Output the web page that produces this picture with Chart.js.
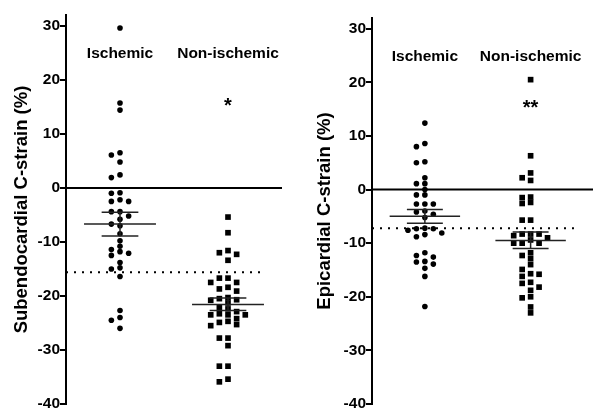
<!DOCTYPE html>
<html>
<head>
<meta charset="utf-8">
<script src="https://cdn.jsdelivr.net/npm/chart.js@4"></script>
<style>
  html, body { margin: 0; padding: 0; background: #fff; }
  #wrap { position: relative; width: 597px; height: 419px; }
  .panel { position: absolute; top: 0; height: 419px; }
  #left { left: 0; width: 300px; }
  #right { left: 300px; width: 297px; }
</style>
</head>
<body>
<div id="wrap">
  <div class="panel" id="left"><canvas id="chartSub" width="300" height="419"></canvas></div>
  <div class="panel" id="right"><canvas id="chartEpi" width="297" height="419"></canvas></div>
</div>
<script>
// 👉 Datos
const groups = ['Ischemic', 'Non-ischemic'];
const groupX = [0.5, 1.5];
const yTicks = [-40, -30, -20, -10, 0, 10, 20, 30];

// Subendocardial C-strain (%)
const subIschemic = [29.6, 15.7, 14.4, 6.5, 6.1, 4.8, 2.4, 1.9, -0.9, -1.0, -2.2, -2.5, -2.5,
  -4.4, -4.4, -5.2, -5.8, -6.7, -7.0, -8.5, -9.8, -10.8, -11.4, -11.8, -12.1, -12.5,
  -13.8, -14.8, -15.0, -16.4, -22.7, -24.0, -24.5, -26.0];
const subNonIschemic = [-5.4, -8.3, -11.6, -12.0, -12.3, -13.4, -16.7, -16.7, -17.5, -17.5,
  -18.4, -18.7, -19.1, -20.3, -20.5, -20.7, -20.8, -21.3, -22.1, -22.4, -22.9, -23.3,
  -23.5, -23.5, -23.5, -24.2, -24.7, -24.9, -25.3, -25.5, -27.8, -27.8, -29.2, -33.0,
  -33.0, -35.4, -35.9];
const subMean = [-6.7, -21.6];
const subSemHigh = [-4.5, -20.4];
const subSemLow = [-8.9, -22.7];
const subCutoff = -15.6;
const subStars = ['', '*'];

// Epicardial C-strain (%)
const epiIschemic = [12.4, 8.6, 8.0, 5.2, 5.0, 2.2, 1.1, 1.1, 0.0, -1.0, -1.0, -2.7, -2.7,
  -2.7, -4.0, -4.2, -4.6, -5.2, -7.2, -7.3, -7.3, -7.6, -8.1, -8.4, -8.8, -11.8, -12.3,
  -12.6, -13.4, -13.5, -13.9, -14.7, -16.2, -21.8];
const epiNonIschemic = [20.5, 6.3, 3.1, 2.2, 1.7, -1.4, -1.5, -2.4, -2.6, -5.7, -5.7, -8.3,
  -8.3, -8.3, -8.6, -9.0, -9.4, -10.0, -10.0, -10.0, -11.8, -12.3, -12.9, -14.0, -14.9,
  -15.7, -15.8, -16.2, -17.3, -17.5, -18.2, -18.8, -20.0, -20.2, -21.9, -23.0];
const epiMean = [-5.0, -9.5];
const epiSemHigh = [-3.7, -7.9];
const epiSemLow = [-6.3, -11.0];
const epiCutoff = -7.2;
const epiStars = ['', '**'];

const FONT = '"Liberation Sans", Arial, Helvetica, sans-serif';
Chart.defaults.font.family = FONT;
Chart.defaults.color = '#000';

// 👉 Dispersión tipo "beeswarm": columnas simétricas alrededor del grupo
function swarm(values, center) {
  const gap = 1.0, step = 0.08;
  const placed = [];
  const cols = [];
  const order = values.map((v, i) => i).sort((a, b) => values[b] - values[a]);
  order.forEach(i => {
    for (let k = 0; k < 40; k++) {
      const c = k === 0 ? 0 : (k % 2 ? -Math.ceil(k / 2) : Math.ceil(k / 2));
      const clash = placed.some(p => p.c === c && Math.abs(p.v - values[i]) < gap);
      if (!clash) { placed.push({ c, v: values[i] }); cols[i] = c; break; }
    }
  });
  return values.map((v, i) => ({ x: center + cols[i] * step, y: v }));
}

function seg(x1, y1, x2, y2, extra) {
  return Object.assign({
    data: [{ x: x1, y: y1 }, { x: x2, y: y2 }],
    showLine: true,
    borderColor: '#222',
    borderWidth: 1.5,
    pointRadius: 0,
    pointHoverRadius: 0
  }, extra || {});
}

// 👉 Etiquetas de grupo y asteriscos
const groupLabels = {
  id: 'groupLabels',
  afterDatasetsDraw(chart, args, opts) {
    const { ctx, scales: { x, y } } = chart;
    ctx.save();
    ctx.fillStyle = '#000';
    ctx.textAlign = 'center';
    ctx.textBaseline = 'middle';
    ctx.font = 'bold 15.5px ' + FONT;
    groups.forEach((g, i) => {
      ctx.fillText(g, x.getPixelForValue(groupX[i]), y.getPixelForValue(24.8));
    });
    ctx.textBaseline = 'alphabetic';
    ctx.font = 'bold 20px ' + FONT;
    opts.stars.forEach((s, i) => {
      if (s) ctx.fillText(s, x.getPixelForValue(groupX[i]), y.getPixelForValue(14.1));
    });
    ctx.restore();
  }
};

function buildChart(id, p) {
  const datasets = [];
  p.mean.forEach((m, i) => {
    const cx = groupX[i];
    datasets.push(seg(cx - 0.333, m, cx + 0.333, m));
    datasets.push(seg(cx - 0.17, p.semHigh[i], cx + 0.17, p.semHigh[i]));
    datasets.push(seg(cx - 0.17, p.semLow[i], cx + 0.17, p.semLow[i]));
    datasets.push(seg(cx, p.semHigh[i], cx, p.semLow[i]));
  });
  datasets.push(seg(0, 0, p.xMax, 0, { borderColor: '#000', borderWidth: 2 }));
  datasets.push(seg(0, p.cutoff, p.cutoffEnd, p.cutoff, { borderColor: '#000', borderWidth: 2, borderDash: [2, 6] }));
  datasets.push({
    data: swarm(p.ischemic, groupX[0]),
    pointStyle: 'circle', pointRadius: 2.8, backgroundColor: '#000', borderWidth: 0
  });
  datasets.push({
    data: swarm(p.nonIschemic, groupX[1]),
    pointStyle: 'rect', pointRadius: 4, backgroundColor: '#000', borderWidth: 0
  });

  return new Chart(document.getElementById(id), {
    type: 'scatter',
    data: { datasets },
    plugins: [groupLabels],
    options: {
      responsive: false,
      animation: false,
      events: [],
      layout: { padding: { top: p.top, bottom: 15, left: 0, right: p.right } },
      plugins: {
        legend: { display: false },
        tooltip: { enabled: false },
        groupLabels: { stars: p.stars }
      },
      scales: {
        x: { type: 'linear', min: 0, max: p.xMax, display: false },
        y: {
          type: 'linear', min: -40, max: 32,
          afterBuildTicks: s => { s.ticks = yTicks.map(v => ({ value: v })); },
          afterFit: s => { s.width = p.axisLeft; },
          border: { display: true, color: '#000', width: 2 },
          grid: { display: true, drawOnChartArea: false, drawTicks: true, tickLength: 6, color: '#000', lineWidth: 2 },
          ticks: { padding: 0, font: { size: 15.5, weight: 'bold' }, color: '#000' },
          title: {
            display: true, text: p.title, color: '#000',
            font: { size: 18.5, weight: 'bold' }, padding: { top: p.titlePad, bottom: 0 }
          }
        }
      }
    }
  });
}

buildChart('chartSub', {
  title: 'Subendocardial C-strain (%)',
  ischemic: subIschemic, nonIschemic: subNonIschemic,
  mean: subMean, semHigh: subSemHigh, semLow: subSemLow,
  cutoff: subCutoff, cutoffEnd: 1.8, stars: subStars,
  xMax: 2, top: 15, right: 18, axisLeft: 66, titlePad: 11
});

buildChart('chartEpi', {
  title: 'Epicardial C-strain (%)',
  ischemic: epiIschemic, nonIschemic: epiNonIschemic,
  mean: epiMean, semHigh: epiSemHigh, semLow: epiSemLow,
  cutoff: epiCutoff, cutoffEnd: 1.91, stars: epiStars,
  xMax: 2.09, top: 18, right: 0, axisLeft: 72, titlePad: 14
});
</script>
</body>
</html>
